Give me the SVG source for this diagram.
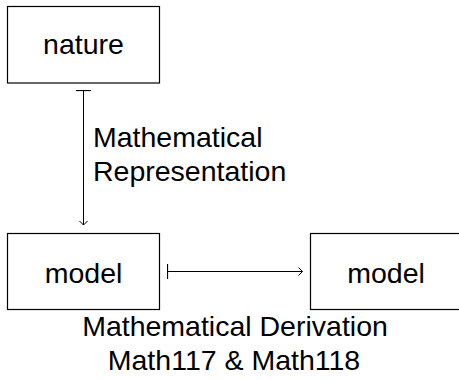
<svg xmlns="http://www.w3.org/2000/svg" width="459" height="380" viewBox="0 0 459 380">
<defs>
<style>
.box{fill:#fff;stroke:#000;stroke-width:1.2}
.lbl{font-family:"Liberation Sans",Arial,sans-serif;font-size:28.5px;fill:#000}
.c{text-anchor:middle}
.edge{stroke:#000;stroke-width:1;fill:none}
</style>
<marker id="head" markerWidth="10" markerHeight="10" refX="6" refY="5" orient="auto" markerUnits="userSpaceOnUse">
<path d="M2,1 L6,5 L2,9" fill="none" stroke="#000" stroke-width="1"/>
</marker>
<marker id="tail" markerWidth="4" markerHeight="18" refX="1" refY="9" orient="auto" markerUnits="userSpaceOnUse">
<path d="M1,1.5 L1,16.5" fill="none" stroke="#000" stroke-width="1.2"/>
</marker>
</defs>
<rect width="459" height="380" fill="#fff"/>
<g id="nature">
<rect class="box" x="7.5" y="6.5" width="152" height="76.5"/>
<text class="lbl c" x="83.5" y="54">nature</text>
</g>
<g id="model1">
<rect class="box" x="7.5" y="233.5" width="152" height="76"/>
<text class="lbl c" x="83.5" y="283">model</text>
</g>
<g id="model2">
<rect class="box" x="310.5" y="233.5" width="152" height="76"/>
<text class="lbl c" x="386" y="283">model</text>
</g>
<g id="connectors">
<line class="edge" x1="83.5" y1="90.5" x2="83.5" y2="225" marker-start="url(#tail)" marker-end="url(#head)"/>
<line class="edge" x1="167.5" y1="271.5" x2="302.5" y2="271.5" marker-start="url(#tail)" marker-end="url(#head)"/>
<text class="lbl" x="93" y="147">Mathematical</text>
<text class="lbl" x="93" y="181">Representation</text>
<text class="lbl c" x="235" y="335.5">Mathematical Derivation</text>
<text class="lbl c" x="234" y="370">Math117 &amp; Math118</text>
</g>
</svg>
